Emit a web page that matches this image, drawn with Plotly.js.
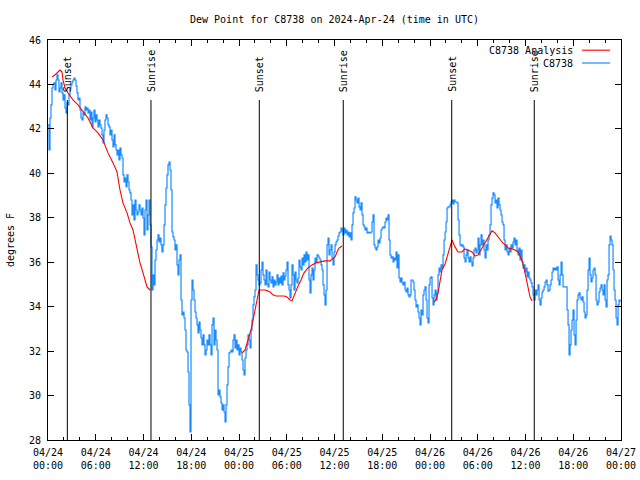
<!DOCTYPE html>
<html><head><meta charset="utf-8">
<script src="https://cdn.plot.ly/plotly-3.0.1.min.js"></script>
<style>html,body{margin:0;padding:0;background:#fff}#chart{width:640px;height:480px}</style>
</head><body><div id="chart"></div>
<script>
// Observations C8738 (degrees F), one reading every obsStepMinutes from obsStart
const obsStartHour = 0;
const obsStepMinutes = 7.54;
const obsValues = [
42.18,41.05,42.49,43.08,43.84,44.02,44.07,43.75,44.2,44.43,44.2,43.66,43.84,44.07,43.62,43.3,43.53,42.94,42.72,43.17,
43.08,43.53,43.84,43.98,44.11,44.2,44.29,44.2,43.93,43.62,43.3,43.39,42.85,42.49,42.4,42.72,42.63,42.99,42.85,42.94,
42.72,42.85,42.4,42.76,42.09,42.49,42.85,42.31,42.63,42.4,42.09,42.4,42.18,42.04,41.73,41.37,41.95,42.4,42.63,42.49,
42.18,42.09,41.73,41.95,41.5,41.19,41.73,41.28,41.05,40.83,41.05,40.6,41.14,40.83,40.69,39.93,39.61,39.79,39.39,39.93,
39.61,39.25,39.12,38.8,38.13,38.58,37.9,38.8,38.35,38.13,38.26,38.58,38.35,38.13,38.44,37.99,37.23,38.35,38.8,37.45,
38.13,38.8,37.68,36.69,34.75,35.43,34.98,36.1,36.55,37.0,37.23,36.91,37.09,36.78,36.46,36.78,37.68,38.58,39.34,39.93,
40.38,40.51,40.15,39.25,37.36,37.14,37.0,36.55,36.78,35.88,35.43,36.1,36.33,34.3,33.63,33.76,33.49,32.95,32.05,31.96,
31.06,29.58,28.36,34.3,35.2,34.75,34.3,33.76,33.49,33.18,32.82,33.31,32.95,32.59,32.28,32.73,32.28,31.83,32.05,32.5,
32.28,32.73,32.28,31.83,33.18,33.49,32.28,32.95,32.5,32.05,30.03,30.25,29.94,29.67,29.35,29.58,29.26,28.81,29.58,30.48,
31.29,31.92,31.96,32.05,31.96,32.5,32.73,32.14,32.5,32.05,32.28,31.83,32.14,31.96,31.6,31.15,30.93,31.69,32.05,32.28,
32.73,32.5,32.14,32.95,33.4,34.08,34.44,34.75,35.88,35.43,35.2,34.98,35.07,35.65,36.01,35.43,35.2,34.98,35.65,35.02,
34.89,35.56,35.2,35.07,35.34,34.89,35.2,34.98,35.11,35.43,34.98,35.29,35.07,35.38,34.98,35.52,35.2,35.38,35.65,36.01,
34.98,34.75,34.39,34.98,35.88,35.43,34.75,35.56,35.2,35.07,35.29,36.1,35.79,35.65,36.19,35.88,36.33,36.01,36.46,36.1,
36.33,35.2,34.62,35.43,35.74,35.2,35.65,36.19,36.01,36.33,36.28,36.19,36.1,35.88,35.65,34.98,34.53,34.08,34.75,36.78,
37.09,36.33,36.55,36.78,36.19,35.88,36.46,36.78,36.91,37.0,37.18,37.32,37.36,37.54,37.41,37.23,37.54,37.32,37.45,37.23,
37.36,37.14,37.32,37.0,37.68,38.22,38.44,38.94,38.8,38.67,38.89,38.49,38.35,38.67,38.13,37.68,37.59,37.45,37.54,37.32,
37.36,37.32,37.32,37.36,37.81,38.13,36.78,36.64,36.55,36.69,37.0,36.87,37.09,37.45,37.54,37.59,37.54,37.81,37.99,37.9,
38.13,37.0,36.33,36.19,36.24,36.01,36.19,36.1,36.46,35.74,36.33,35.29,35.11,35.29,35.07,34.98,35.11,34.75,34.66,34.84,
34.53,34.44,34.53,35.2,35.2,35.11,34.75,34.3,33.99,34.08,33.76,33.49,33.18,33.85,33.63,34.53,34.75,34.89,34.3,33.49,
33.27,34.98,35.29,35.34,34.39,34.08,34.53,34.75,34.3,34.62,35.43,35.74,35.56,35.88,35.74,36.33,37.0,37.36,37.81,38.44,
38.49,38.49,38.58,38.71,38.8,38.62,38.8,38.71,38.71,38.67,37.9,37.23,36.78,36.73,36.78,36.69,36.19,36.01,36.33,36.55,
36.19,36.01,36.24,36.01,35.83,36.19,36.55,36.64,36.42,36.55,37.09,36.33,36.78,37.23,36.78,37.0,36.55,36.19,36.78,36.55,
37.0,37.23,37.68,38.58,38.89,39.12,39.03,38.67,38.8,38.44,38.89,38.58,38.35,38.13,37.81,37.68,37.0,36.55,36.78,36.46,
36.33,36.64,36.46,36.78,36.64,36.91,37.09,36.78,37.0,36.55,36.33,36.64,36.1,36.55,36.01,35.74,35.88,35.56,35.74,35.34,
35.56,35.29,35.2,35.07,34.89,34.53,34.3,34.75,34.53,34.75,34.98,34.3,34.08,34.39,34.66,34.75,34.89,35.11,35.2,34.98,
34.7,34.75,34.98,35.2,35.56,35.74,35.65,35.74,35.65,35.79,35.2,34.98,35.43,36.01,35.43,34.89,34.89,34.89,34.89,33.85,
33.18,31.83,32.28,32.95,33.4,33.85,32.73,32.28,33.4,34.3,34.53,34.62,34.39,34.3,34.44,34.21,33.76,33.49,33.63,34.75,
35.65,36.19,35.43,35.11,35.29,35.65,35.74,35.43,34.3,34.08,34.21,34.66,34.84,34.98,34.75,34.53,34.98,34.3,33.99,35.2,
35.43,36.78,37.18,37.0,36.78,35.65,34.75,34.3,33.49,33.18,34.08,34.3,34.21
];

// C8738 Analysis (hours after 2024-04-24 00:00 UTC), three separate runs
const anaHours1 = [0.50,1.01,1.51,1.76,1.88,2.14,2.51,3.14,3.77,4.40,5.03,5.65,6.28,6.91,7.54,8.17,8.67,9.05,9.42,9.93,10.30,10.68,11.18,11.56,11.94,12.44,12.82];
const anaValues1 = [44.33,44.47,44.65,44.56,44.2,43.84,43.62,43.3,43.08,42.76,42.49,42.04,41.82,41.5,40.92,40.47,40.06,39.25,38.67,38.22,37.77,37.45,36.55,35.97,35.52,34.89,34.75];
const anaHours2 = [24.38,24.76,25.13,25.51,25.89,26.26,26.52,26.89,27.27,27.65,27.90,28.27,28.65,29.15,29.66,30.03,30.41,30.66,31.04,31.42,31.79,32.17,32.67,33.17,33.68,34.18,34.81,35.44,35.81,36.07,36.32,36.57,36.94];
const anaValues2 = [31.92,32.05,32.5,32.95,33.63,34.3,34.75,34.75,34.75,34.7,34.66,34.53,34.48,34.48,34.48,34.44,34.3,34.26,34.62,34.93,35.2,35.52,35.74,35.88,35.97,36.01,36.06,36.06,36.15,36.24,36.46,36.64,36.73];
const anaHours3 = [48.51,48.76,49.01,49.26,49.51,49.89,50.26,50.52,50.77,51.14,51.52,52.02,52.40,52.78,53.28,53.66,54.03,54.54,54.91,55.29,55.79,56.17,56.55,57.05,57.43,57.80,58.30,58.68,59.06,59.56,59.94,60.32,60.57,60.82];
const anaValues3 = [34.21,34.3,34.62,35.11,35.65,35.92,36.37,36.73,37.0,36.69,36.46,36.46,36.6,36.55,36.46,36.28,36.33,36.64,36.87,37.14,37.41,37.32,37.14,36.91,36.78,36.64,36.6,36.55,36.46,36.1,35.52,34.89,34.44,34.26];

// Sun events (hours after 2024-04-24 00:00 UTC)
const sunLabels = ['Sunset','Sunrise','Sunset','Sunrise','Sunset','Sunrise'];
const sunHours = [2.43, 12.94, 26.55, 37.10, 50.73, 61.10];

// Axis ticks
const xTickHours = [0,6,12,18,24,30,36,42,48,54,60,66,72];
const xTickLabels = ['04/24<br>00:00','04/24<br>06:00','04/24<br>12:00','04/24<br>18:00','04/25<br>00:00','04/25<br>06:00','04/25<br>12:00','04/25<br>18:00','04/26<br>00:00','04/26<br>06:00','04/26<br>12:00','04/26<br>18:00','04/27<br>00:00'];
const yTickValues = [28,30,32,34,36,38,40,42,44,46];

const baseMs = Date.UTC(2024,3,24,0,0,0);
function hToDate(h){ return new Date(baseMs + Math.round(h*3600000)).toISOString().slice(0,19).replace('T',' '); }

const obsX = obsValues.map((v,i)=>hToDate(obsStartHour + i*obsStepMinutes/60));
const anaX = [], anaY = [];
[[anaHours1,anaValues1],[anaHours2,anaValues2],[anaHours3,anaValues3]].forEach(([hs,vs],k)=>{
  if(k>0){anaX.push(null);anaY.push(null);}
  hs.forEach((h,i)=>{anaX.push(hToDate(h));anaY.push(vs[i]);});
});

const FONT = 'DejaVu Sans Mono, monospace';
const BLUE = '#1A8CFF', RED = '#FF0000';
const traces = [
  {x: obsX, y: obsValues, type:'scatter', mode:'lines', name:'C8738', line:{color:BLUE, width:1.2, shape:'hv'}, showlegend:false},
  {x: anaX, y: anaY, type:'scatter', mode:'lines', name:'C8738 Analysis', line:{color:RED, width:1.1}, connectgaps:false, showlegend:false}
];

const shapes = sunHours.map(h=>({type:'line', xref:'x', yref:'paper', x0:hToDate(h), x1:hToDate(h), y0:0, y1:0.85, line:{color:'#000', width:1}}));
// legend samples
shapes.push({type:'line', xref:'paper', yref:'paper', x0:0.932, x1:0.981, y0:0.9745, y1:0.9745, line:{color:RED, width:1.1}});
shapes.push({type:'line', xref:'paper', yref:'paper', x0:0.932, x1:0.981, y0:0.9425, y1:0.9425, line:{color:BLUE, width:1.2}});

const annotations = sunHours.map((h,i)=>({x:hToDate(h), xref:'x', y:0.865, yref:'paper', text:sunLabels[i], textangle:-90, showarrow:false, xanchor:'center', yanchor:'bottom', font:{family:FONT, size:10, color:'#000'}}));
annotations.push({x:0.919, xref:'paper', y:0.9745, yref:'paper', text:'C8738 Analysis', showarrow:false, xanchor:'right', yanchor:'middle', font:{family:FONT, size:10, color:'#000'}});
annotations.push({x:0.919, xref:'paper', y:0.9425, yref:'paper', text:'C8738', showarrow:false, xanchor:'right', yanchor:'middle', font:{family:FONT, size:10, color:'#000'}});

const layout = {
  width:640, height:480,
  margin:{l:48, r:19, t:40, b:40},
  paper_bgcolor:'#fff', plot_bgcolor:'#fff',
  font:{family:FONT, size:10, color:'#000'},
  title:{text:'Dew Point for C8738 on 2024-Apr-24 (time in UTC)', font:{family:FONT, size:10}, x:0.5, xref:'paper', xanchor:'center', y:1-19/480, yref:'container', yanchor:'middle'},
  xaxis:{type:'date', range:[hToDate(0), hToDate(72)], tickvals: xTickHours.map(hToDate), ticktext: xTickLabels,
    ticks:'inside', ticklen:6, tickcolor:'#000', showline:true, linecolor:'#000', linewidth:1, mirror:'ticks', showgrid:false, zeroline:false,
    ticklabelstandoff:3,
    minor:{dtick:2*3600000, ticks:'inside', ticklen:3, tickcolor:'#000', showgrid:false},
    tickfont:{family:FONT, size:10}},
  yaxis:{range:[28,46], tickvals:yTickValues, ticks:'inside', ticklen:6, tickcolor:'#000', showline:true, linecolor:'#000', linewidth:1, mirror:'ticks', showgrid:false, zeroline:false,
    ticklabelstandoff:4,
    tickfont:{family:FONT, size:10}, title:{text:'degrees F', font:{family:FONT, size:10}, standoff:12}},
  shapes: shapes, annotations: annotations, showlegend:false
};
Plotly.newPlot('chart', traces, layout, {displayModeBar:false, staticPlot:true});
</script></body></html>
